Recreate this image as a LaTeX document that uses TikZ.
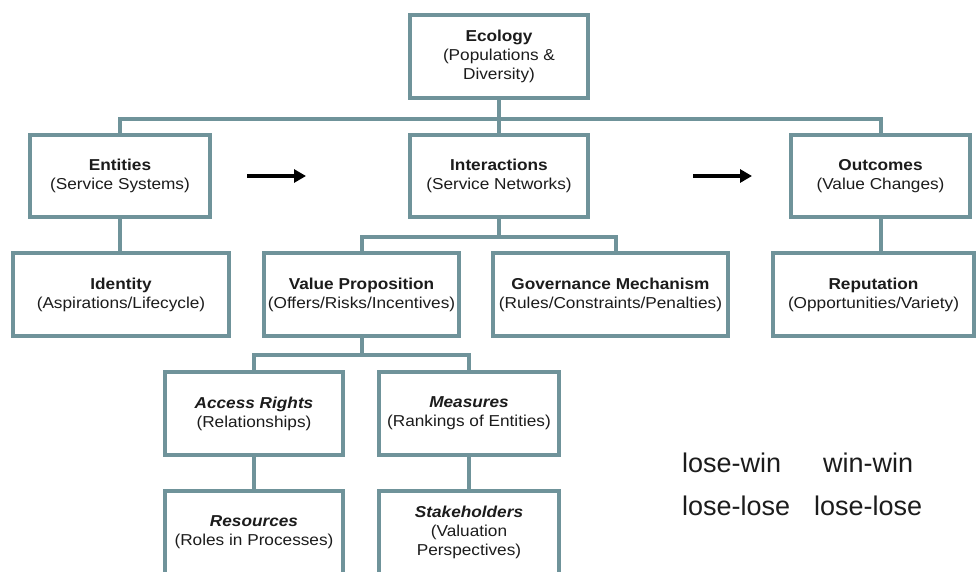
\documentclass[tikz,border=0pt]{standalone}
\usepackage{fontspec}
\setmainfont{Liberation Sans}
\newfontfamily\boxfont{Liberation Sans}[FakeStretch=1.09]
\usetikzlibrary{arrows.meta}
\definecolor{boxline}{RGB}{111,147,154}
\definecolor{txt}{RGB}{28,28,28}
\tikzset{
  box/.style={draw=boxline, line width=4pt, fill=white, inner sep=0pt, align=center,
    text=txt, font=\boxfont\fontsize{15.8}{19}\selectfont},
  link/.style={draw=boxline, line width=4pt},
  flow/.style={draw=black, line width=3.5pt, -{Triangle[length=12pt,width=13pt]}},
  big/.style={anchor=base west, inner sep=0pt, text=txt, font=\fontsize{27}{30}\selectfont}
}
\begin{document}
\begin{tikzpicture}[x=1pt,y=-1pt]
\useasboundingbox (0,0) rectangle (976,571);
\clip (0,0) rectangle (976,571);
\fill[white] (0,0) rectangle (976,571);
% boxes
\node[box, minimum width=178pt, minimum height=83pt] (eco) at (499,56.5) {\textbf{Ecology}\\(Populations \&\\Diversity)};
\node[box, minimum width=180pt, minimum height=82pt] (ent) at (120,176) {\textbf{Entities}\\(Service Systems)};
\node[box, minimum width=178pt, minimum height=82pt] (int) at (499,176) {\textbf{Interactions}\\(Service Networks)};
\node[box, minimum width=179pt, minimum height=82pt] (out) at (880.5,176) {\textbf{Outcomes}\\(Value Changes)};
\node[box, minimum width=216pt, minimum height=83pt] (idn) at (121,294.5) {\textbf{Identity}\\(Aspirations/Lifecycle)};
\node[box, minimum width=195pt, minimum height=83pt] (vp) at (361.5,294.5) {\textbf{Value Proposition}\\(Offers/Risks/Incentives)};
\node[box, minimum width=235pt, minimum height=83pt] (gov) at (610.5,294.5) {\textbf{Governance Mechanism}\\(Rules/Constraints/Penalties)};
\node[box, minimum width=201pt, minimum height=83pt] (rep) at (873.5,294.5) {\textbf{Reputation}\\(Opportunities/Variety)};
\node[box, minimum width=178pt, minimum height=83pt] (acc) at (254,413.5) {\textbf{\textit{Access Rights}}\\(Relationships)};
\node[box, minimum width=180pt, minimum height=83pt] (mea) at (469,413.5) {\textbf{\textit{Measures}}\\(Rankings of Entities)};
\node[box, minimum width=178pt, minimum height=83pt] (res) at (254,532.5) {\textbf{\textit{Resources}}\\(Roles in Processes)};
\node[box, minimum width=180pt, minimum height=83pt] (stk) at (469,532.5) {\textbf{\textit{Stakeholders}}\\(Valuation\\Perspectives)};
% bus coordinates
\coordinate (b1) at (499,119);
\coordinate (b2) at (499,237);
\coordinate (b3) at (362,355);
% connectors
\draw[link] (eco.south) -- (int.north);
\draw[link] (ent.north) |- (b1) -| (out.north);
\draw[link] (ent.south) -- (ent.south |- idn.north);
\draw[link] (out.south) -- (out.south |- rep.north);
\draw[link] (int.south) -- (b2);
\draw[link] (vp.north) |- (b2) -| ([xshift=5.5pt]gov.north);
\draw[link] (vp.south) -- (vp.south |- b3);
\draw[link] (acc.north) |- (b3) -| (mea.north);
\draw[link] (acc.south) -- (acc.south |- res.north);
\draw[link] (mea.south) -- (mea.south |- stk.north);
% flow arrows
\coordinate (a1s) at (247,176);
\coordinate (a1e) at (306,176);
\coordinate (a2s) at (693,176);
\coordinate (a2e) at (752,176);
\draw[flow] (a1s) -- (a1e);
\draw[flow] (a2s) -- (a2e);
% outcome labels
\node[big] (lw) at (682,472) {lose-win};
\node[big] (ww) at (823,472) {win-win};
\node[big] (ll1) at (682,515) {lose-lose};
\node[big] (ll2) at (814,515) {lose-lose};
\end{tikzpicture}
\end{document}
